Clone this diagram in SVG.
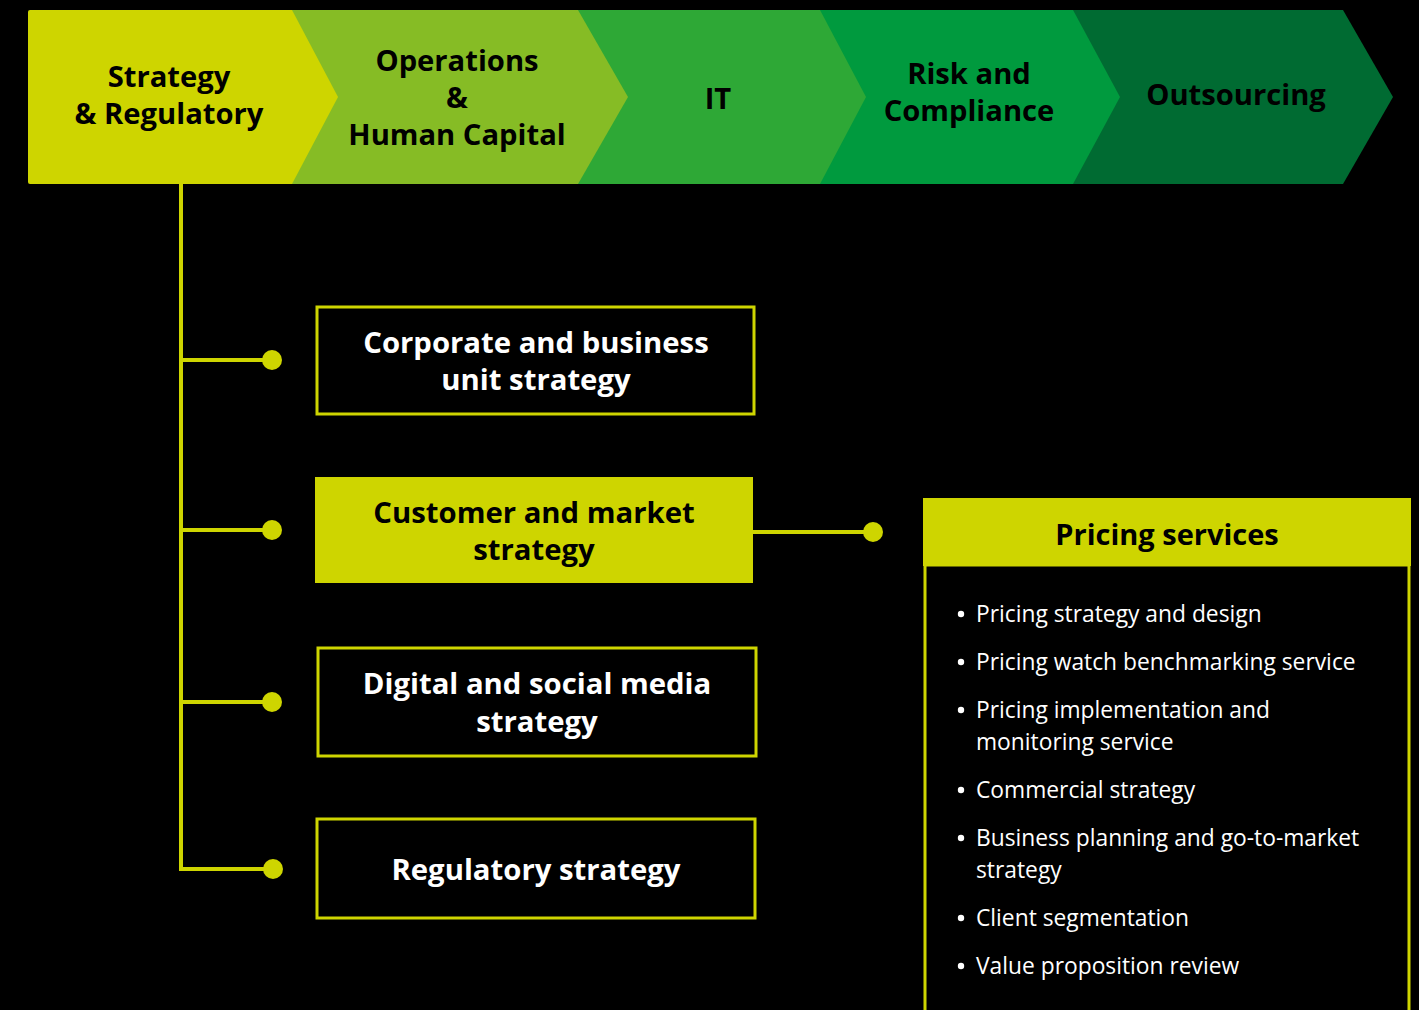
<svg xmlns="http://www.w3.org/2000/svg" width="1419" height="1010" viewBox="0 0 1419 1010">
<style>
.h{font-family:"Open Sans","Noto Sans",sans-serif;font-weight:700;font-size:29.2px;text-anchor:middle;fill:#000}
.b{font-family:"Open Sans","Noto Sans",sans-serif;font-weight:700;font-size:29.3px;text-anchor:middle;fill:#fff}
.li{font-family:"Open Sans","Noto Sans",sans-serif;font-size:22.8px;fill:#fff}
.ln{stroke:#CED500;stroke-width:4;fill:none}
.dot{fill:#CED500}
.bul{fill:#fff}
.box{fill:#000;stroke:#CED500;stroke-width:3}
</style>
<rect width="1419" height="1010" fill="#000"/>
<g id="chevrons">
<g id="outsourcing"><path d="M1070,10 H1343 L1393,97 L1343,184 H1070 Z" fill="#006B32"/><text class="h" x="1236" y="105">Outsourcing</text></g>
<g id="risk"><path d="M815,10 H1073 L1120,97 L1073,184 H815 Z" fill="#009A3E"/><text class="h" x="969" y="84">Risk and</text><text class="h" x="969" y="121">Compliance</text></g>
<g id="it"><path d="M570,10 H820 L866,97 L820,184 H570 Z" fill="#2EA836"/><text class="h" x="718" y="109">IT</text></g>
<g id="operations"><path d="M285,10 H578 L628,97 L578,184 H285 Z" fill="#86BC25"/><text class="h" x="457" y="71">Operations</text><text class="h" x="457" y="108">&amp;</text><text class="h" x="457" y="145">Human Capital</text></g>
<g id="strategy"><path d="M30,10 H292 L338,97 L292,184 H30 Q28,184 28,182 V12 Q28,10 30,10 Z" fill="#CED500"/><text class="h" x="169" y="87">Strategy</text><text class="h" x="169" y="124">&amp; Regulatory</text></g>
</g>
<g id="connectors">
<path class="ln" d="M181,184 V869"/>
<path class="ln" d="M179,360 H272 M179,530 H272 M179,702 H272 M179,869 H272 M753,532 H873"/>
<circle class="dot" cx="272" cy="360" r="10"/>
<circle class="dot" cx="272" cy="530" r="10"/>
<circle class="dot" cx="272" cy="702" r="10"/>
<circle class="dot" cx="273" cy="869" r="10"/>
<circle class="dot" cx="873" cy="532" r="10"/>
</g>
<g id="corporate"><rect class="box" x="317" y="307" width="437" height="107"/><text class="b" x="536" y="353">Corporate and business</text><text class="b" x="536" y="390">unit strategy</text></g>
<g id="customer"><rect x="315" y="477" width="438" height="106" fill="#CED500"/><text class="h" x="534" y="523" style="font-size:29.3px">Customer and market</text><text class="h" x="534" y="560" style="font-size:29.3px">strategy</text></g>
<g id="digital"><rect class="box" x="318" y="648" width="438" height="108"/><text class="b" x="537" y="694">Digital and social media</text><text class="b" x="537" y="732">strategy</text></g>
<g id="regulatory"><rect class="box" x="317" y="819" width="438" height="99"/><text class="b" x="536" y="880">Regulatory strategy</text></g>
<g id="pricing">
<rect x="925" y="565" width="484" height="460" fill="#000" stroke="#CED500" stroke-width="3"/>
<rect x="923" y="498" width="488" height="68" fill="#CED500"/>
<text class="h" x="1167" y="545" style="font-size:29px">Pricing services</text>
<g class="bul">
<circle cx="961" cy="614" r="3.2"/>
<circle cx="961" cy="662" r="3.2"/>
<circle cx="961" cy="710" r="3.2"/>
<circle cx="961" cy="790" r="3.2"/>
<circle cx="961" cy="838" r="3.2"/>
<circle cx="961" cy="918" r="3.2"/>
<circle cx="961" cy="966" r="3.2"/>
</g>
<g class="li">
<text x="976" y="622">Pricing strategy and design</text>
<text x="976" y="670">Pricing watch benchmarking service</text>
<text x="976" y="718">Pricing implementation and</text><text x="976" y="750">monitoring service</text>
<text x="976" y="798">Commercial strategy</text>
<text x="976" y="846">Business planning and go-to-market</text><text x="976" y="878">strategy</text>
<text x="976" y="926">Client segmentation</text>
<text x="976" y="974">Value proposition review</text>
</g>
</g>
</svg>
